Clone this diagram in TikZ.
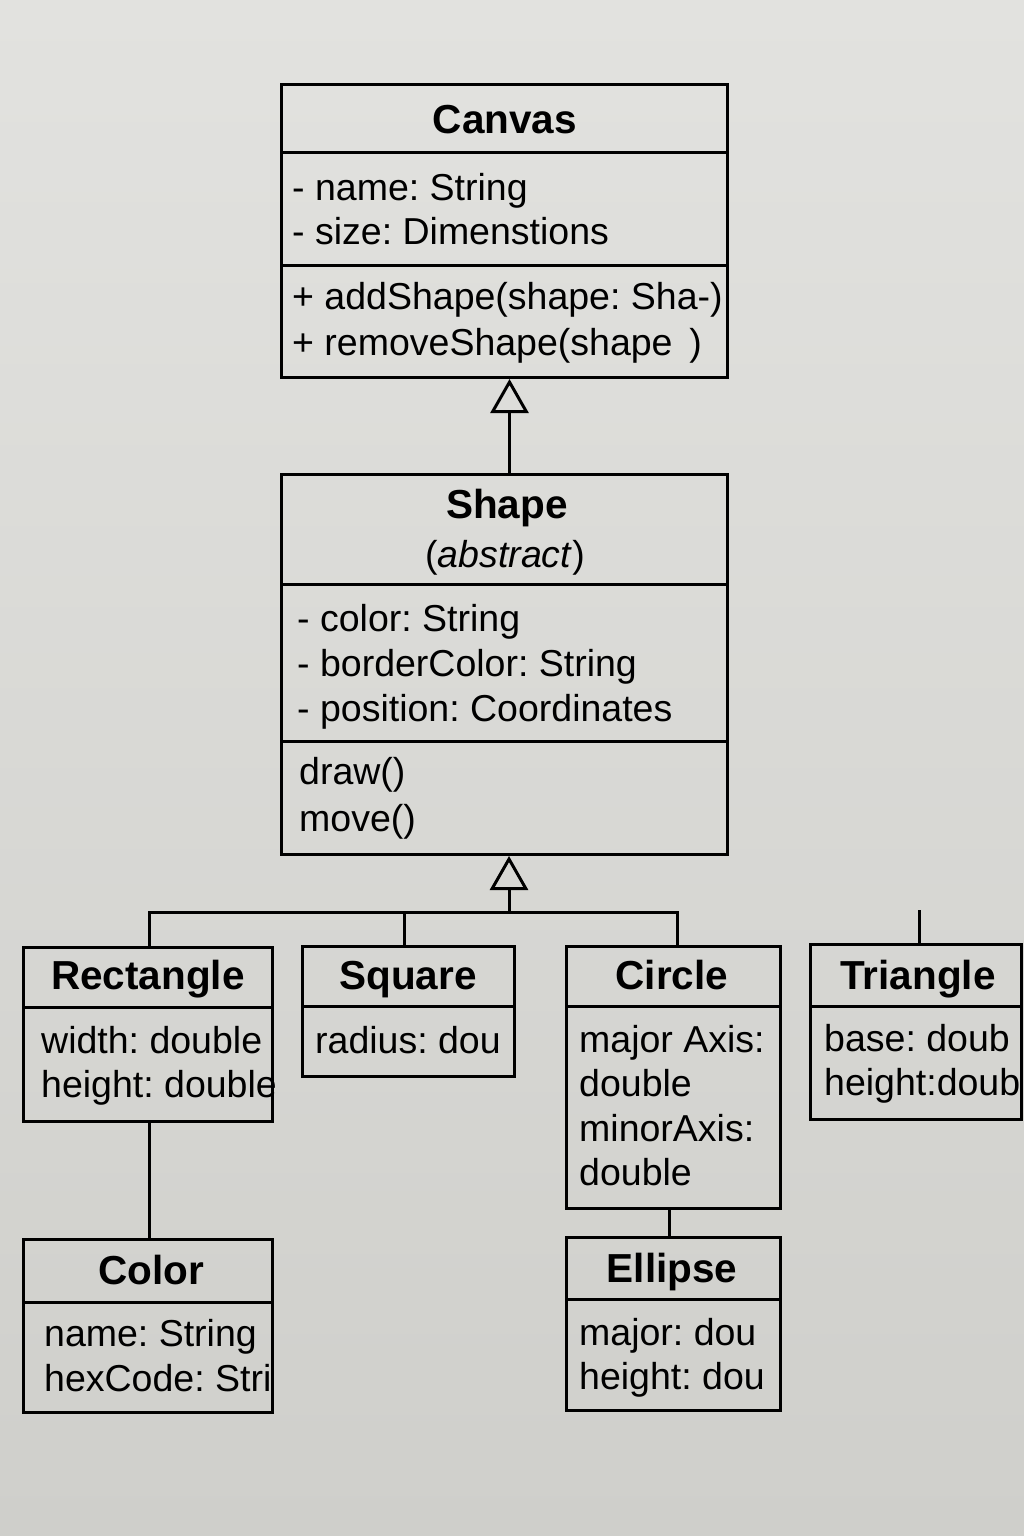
\documentclass[tikz,border=0pt]{standalone}
\usepackage{fontspec}
\setmainfont{Liberation Sans}
\usetikzlibrary{arrows.meta}
\definecolor{bgtop}{HTML}{E2E2DF}
\definecolor{bgbot}{HTML}{CFCFCB}
\frenchspacing
\tikzset{
  box/.style={draw=black, line width=3pt, inner sep=0pt, anchor=north west},
  divline/.style={draw=black, line width=3pt},
  conn/.style={draw=black, line width=3pt},
  inh/.style={conn, -{Triangle[open, length=34pt, width=38pt, line width=3pt]}},
  txt/.style={inner sep=0pt, anchor=base west, font=\fontsize{37.5}{44}\selectfont},
  ttl/.style={inner sep=0pt, anchor=base, font=\fontsize{40.5}{44}\selectfont\bfseries},
}
\begin{document}
\begin{tikzpicture}[x=1pt,y=-1pt]
\useasboundingbox (0,0) rectangle (1024,1536);
\shade[top color=bgtop, bottom color=bgbot] (0,0) rectangle (1024,1536);

% Canvas
\node[box, minimum width=446pt, minimum height=293pt] (canvas) at (280,83) {};
\draw[divline] (280,152) -- (726,152);
\draw[divline] (280,265) -- (726,265);
\node[ttl] (cvt) at (505,133) {Canvas};
\node[txt] (cva1) at (292,200) {- name: String};
\node[txt] (cva2) at (292,244) {- size: Dimenstions};
\node[txt] (cvm1) at (292,309) {+ addShape(shape: Sha-)};
\node[txt] (cvm2) at (292,355) {+ removeShape(shape\hspace{0.45em})};

% Shape
\node[box, minimum width=446pt, minimum height=380pt] (shape) at (280,473) {};
\draw[divline] (280,584) -- (726,584);
\draw[divline] (280,741) -- (726,741);
\node[ttl] (sht) at (507,518) {Shape};
\node[txt, anchor=base] (sha) at (505,567) {(\textit{abstract})};
\node[txt] (sha1) at (297,631) {- color: String};
\node[txt] (sha2) at (297,676) {- borderColor: String};
\node[txt] (sha3) at (297,721) {- position: Coordinates};
\node[txt] (shm1) at (299,784) {draw()};
\node[txt] (shm2) at (299,831) {move()};

% Rectangle
\node[box, minimum width=249pt, minimum height=174pt] (rect) at (22,946) {};
\draw[divline] (22,1007) -- (271,1007);
\node[ttl] (rct) at (148,989) {Rectangle};
\node[txt] (rc1) at (41,1053) {width: double};
\node[txt] (rc2) at (41,1097) {height: double};

% Square
\node[box, minimum width=212pt, minimum height=130pt] (sq) at (301,945) {};
\draw[divline] (301,1006) -- (513,1006);
\node[ttl] (sqt) at (408,989) {Square};
\node[txt] (sq1) at (315,1053) {radius: dou};

% Circle
\node[box, minimum width=214pt, minimum height=262pt] (circ) at (565,945) {};
\draw[divline] (565,1006) -- (779,1006);
\node[ttl] (cit) at (672,989) {Circle};
\node[txt] (ci1) at (579,1052) {major Axis:};
\node[txt] (ci2) at (579,1096) {double};
\node[txt] (ci3) at (579,1141) {minorAxis:};
\node[txt] (ci4) at (579,1185) {double};

% Triangle
\node[box, minimum width=211pt, minimum height=175pt] (tri) at (809,943) {};
\draw[divline] (809,1006) -- (1020,1006);
\node[ttl] (trt) at (918,989) {Triangle};
\node[txt] (tr1) at (824,1051) {base: doub};
\node[txt] (tr2) at (824,1095) {height:doub};

% Color
\node[box, minimum width=249pt, minimum height=173pt] (color) at (22,1238) {};
\draw[divline] (22,1302) -- (271,1302);
\node[ttl] (cot) at (151,1284) {Color};
\node[txt] (co1) at (44,1346) {name: String};
\node[txt] (co2) at (44,1391) {hexCode: Stri};

% Ellipse
\node[box, minimum width=214pt, minimum height=173pt] (ell) at (565,1236) {};
\draw[divline] (565,1299) -- (779,1299);
\node[ttl] (elt) at (672,1282) {Ellipse};
\node[txt] (el1) at (579,1345) {major: dou};
\node[txt] (el2) at (579,1389) {height: dou};

% Connectors
\coordinate (junction) at (509,912);
\coordinate (tristub) at (918,910);
\draw[inh] ([xshift=5pt]shape.north) -- ([xshift=5pt]canvas.south);
\draw[inh] (junction) -- (junction |- shape.south);
\draw[conn] ([xshift=1.5pt]rect.north) |- (junction) -| ([xshift=4pt]circ.north);
\draw[conn] ([xshift=-4pt]sq.north) -- ([xshift=-4pt]sq.north |- junction);
\draw[conn] ([xshift=3.5pt]tri.north) -- ([xshift=3.5pt]tri.north |- tristub);
\draw[conn] ([xshift=1.5pt]rect.south) -- ([xshift=1.5pt]rect.south |- color.north);
\draw[conn] ([xshift=-4pt]circ.south) -- ([xshift=-4pt]circ.south |- ell.north);
\end{tikzpicture}
\end{document}
